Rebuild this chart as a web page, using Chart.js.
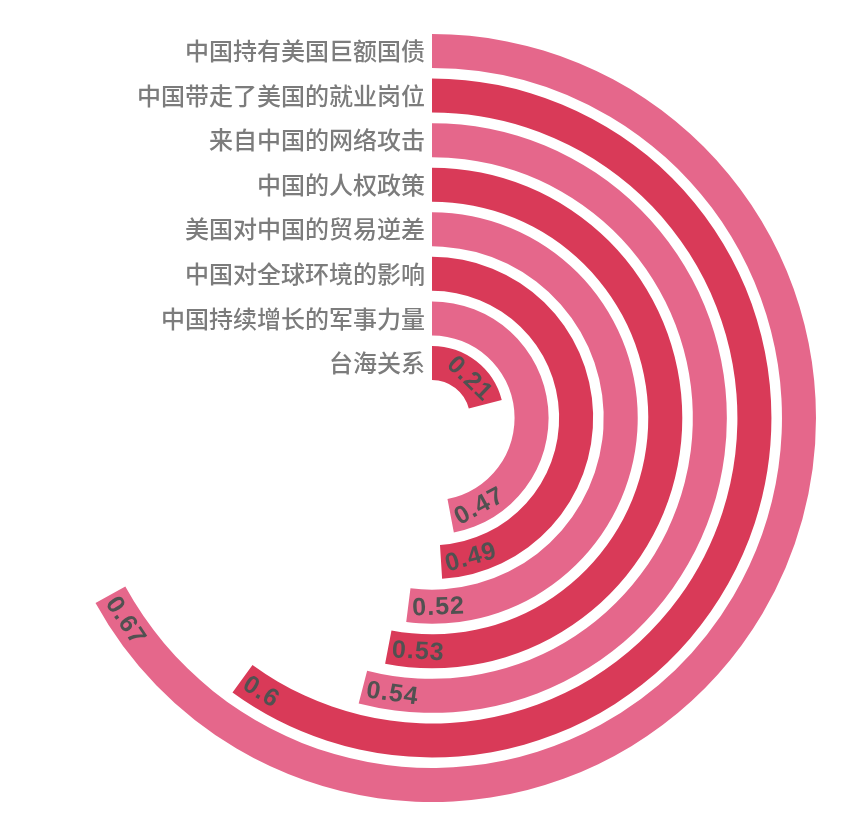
<!DOCTYPE html>
<html lang="zh">
<head>
    <meta charset="UTF-8">
    <title>Radial bar</title>
    <style>
        body { margin: 0; background: #fff; }
        .chart-container { width: 864px; height: 826px; position: relative; }
    </style>
</head>
<body>

<div class="chart-container">
    <canvas id="radialChart"></canvas>
</div>

<script src="https://cdn.jsdelivr.net/npm/chart.js"></script>
<script>
    // outermost ring first
    const categories = [
        '中国持有美国巨额国债',
        '中国带走了美国的就业岗位',
        '来自中国的网络攻击',
        '中国的人权政策',
        '美国对中国的贸易逆差',
        '中国对全球环境的影响',
        '中国持续增长的军事力量',
        '台海关系'
    ];
    const values = [0.67, 0.6, 0.54, 0.53, 0.52, 0.49, 0.47, 0.21];
    const maxValue = 1;
    const ringColors = ['#e5678b', '#d93a58'];

    const datasets = [];
    values.forEach((v, i) => {
        if (i > 0) {
            // transparent spacer ring for the white gap
            datasets.push({
                data: [maxValue],
                backgroundColor: ['rgba(0,0,0,0)'],
                borderWidth: 0,
                weight: 0.31,
                spacer: true
            });
        }
        datasets.push({
            data: [v, maxValue - v],
            backgroundColor: [ringColors[i % 2], 'rgba(0,0,0,0)'],
            borderWidth: 0,
            weight: 1,
            catIndex: i
        });
    });

    const ringLabels = {
        id: 'ringLabels',
        afterDatasetsDraw(chart) {
            const ctx = chart.ctx;
            ctx.save();
            chart.data.datasets.forEach((ds, di) => {
                if (ds.spacer) return;
                const arc = chart.getDatasetMeta(di).data[0];
                const rm = (arc.innerRadius + arc.outerRadius) / 2;

                // category name, left of the ring start
                ctx.letterSpacing = '0px';
                ctx.font = '500 24px "Noto Sans CJK SC", sans-serif';
                ctx.fillStyle = '#7c7c7c';
                ctx.textAlign = 'right';
                ctx.textBaseline = 'middle';
                ctx.fillText(categories[ds.catIndex], arc.x - 7, arc.y - rm);

                // value at the end of the arc, along the ring
                const txt = String(values[ds.catIndex]);
                ctx.font = 'bold 25px "Liberation Sans", Arial, sans-serif';
                ctx.letterSpacing = '1px';
                const w = ctx.measureText(txt).width;
                const a = arc.endAngle - (4 + w / 2) / rm;
                let rot = a + Math.PI / 2;
                if (Math.cos(rot) < 0) rot += Math.PI;
                ctx.save();
                ctx.translate(arc.x + rm * Math.cos(a), arc.y + rm * Math.sin(a));
                ctx.rotate(rot);
                ctx.fillStyle = '#515151';
                ctx.textAlign = 'center';
                ctx.textBaseline = 'middle';
                ctx.fillText(txt, 0, 1);
                ctx.restore();
            });
            ctx.restore();
        }
    };

    new Chart(document.getElementById('radialChart'), {
        type: 'doughnut',
        data: { datasets: datasets },
        options: {
            responsive: true,
            maintainAspectRatio: false,
            animation: false,
            events: [],
            cutout: 38,
            hoverOffset: 0,
            layout: { padding: { left: 48, right: 48, top: 34, bottom: 24 } },
            plugins: {
                legend: { display: false },
                tooltip: { enabled: false }
            }
        },
        plugins: [ringLabels]
    });
</script>

</body>
</html>
